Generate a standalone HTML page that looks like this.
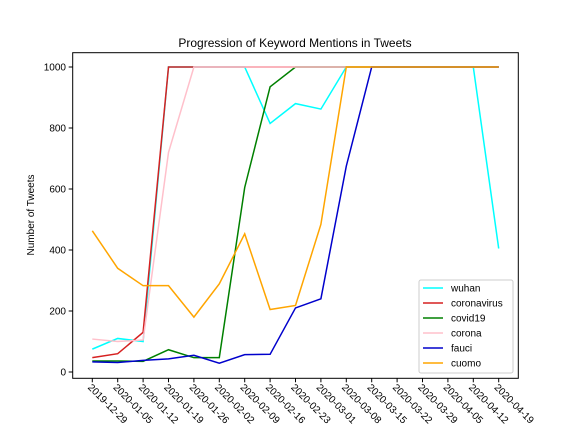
<!DOCTYPE html>
<html><head><meta charset="utf-8"><style>body{margin:0;background:#fff}svg{font-family:"Liberation Sans","DejaVu Sans",sans-serif}</style></head>
<body>
<svg width="576" height="432" xmlns="http://www.w3.org/2000/svg">
<rect width="576" height="432" fill="#fff"/>
<text x="295" y="47" font-size="12" text-anchor="middle">Progression of Keyword Mentions in Tweets</text>
<text transform="translate(34,215) rotate(-90)" font-size="10" text-anchor="middle">Number of Tweets</text>
<g id="yt"></g><g id="xt"></g><g id="lines"></g>
<rect x="72.7" y="52.7" width="445.6" height="325.6" fill="none" stroke="#000" stroke-width="1"/>
<g id="legend"></g>
</svg>
<script>
const categories=["2019-12-29","2020-01-05","2020-01-12","2020-01-19","2020-01-26","2020-02-02","2020-02-09","2020-02-16","2020-02-23","2020-03-01","2020-03-08","2020-03-15","2020-03-22","2020-03-29","2020-04-05","2020-04-12","2020-04-19"];
const yTicks=[0,200,400,600,800,1000];
const seriesNames=["wuhan","coronavirus","covid19","corona","fauci","cuomo"];
const seriesColors=["cyan","#d62020","green","pink","#0000cc","orange"];
const wuhan=[75,110,100,1000,1000,1000,1000,815,880,862,1000,1000,1000,1000,1000,1000,405];
const coronavirus=[47,60,130,1000,1000,1000,1000,1000,1000,1000,1000,1000,1000,1000,1000,1000,1000];
const covid19=[36,36,35,73,47,47,605,935,1000,1000,1000,1000,1000,1000,1000,1000,1000];
const corona=[108,100,105,720,1000,1000,1000,1000,1000,1000,1000,1000,1000,1000,1000,1000,1000];
const fauci=[33,31,38,43,55,29,57,58,210,240,675,1000,1000,1000,1000,1000,1000];
const cuomo=[463,340,283,283,180,289,453,205,218,484,1000,1000,1000,1000,1000,1000,1000];
const allSeries=[wuhan,coronavirus,covid19,corona,fauci,cuomo];
const NS="http://www.w3.org/2000/svg";
const x0=92.3,dx=25.4,y0=372,ys=0.305;
const X=i=>x0+i*dx, Y=v=>y0-v*ys;
function mk(t,a,p){const e=document.createElementNS(NS,t);for(const k in a)e.setAttribute(k,a[k]);p.appendChild(e);return e;}
const yt=document.getElementById('yt');
yTicks.forEach(v=>{const l=mk('line',{x1:68.7,x2:72.7,y1:Y(v),y2:Y(v),stroke:'#000'},yt);


const t=mk('text',{x:66,y:Y(v)+3.5,'font-size':10,'text-anchor':'end'},yt);t.textContent=v;

});
const xt=document.getElementById('xt');
categories.forEach((c,i)=>{const l=mk('line',{x1:X(i),x2:X(i),y1:378.3,y2:382.3,stroke:'#000'},xt);


const t=mk('text',{transform:`translate(${X(i)-5},${388}) rotate(45)`,'font-size':10},xt);t.textContent=c;

});
const lg=document.getElementById('lines');
allSeries.forEach((s,k)=>{const p=mk('polyline',{points:s.map((v,i)=>X(i)+','+Y(v)).join(' '),fill:'none',stroke:seriesColors[k],'stroke-width':1.5},lg);

});
const leg=document.getElementById('legend');
const r=mk('rect',{x:419,y:280,width:94,height:93,rx:2,fill:'#fff',stroke:'#ccc'},leg);


seriesNames.forEach((n,k)=>{const y=288+k*15;
const l=mk('line',{x1:423,x2:443,y1:y,y2:y,stroke:seriesColors[k],'stroke-width':1.5},leg);


const t=mk('text',{x:451,y:y+3.5,'font-size':10},leg);t.textContent=n;

});
</script>
</body></html>
